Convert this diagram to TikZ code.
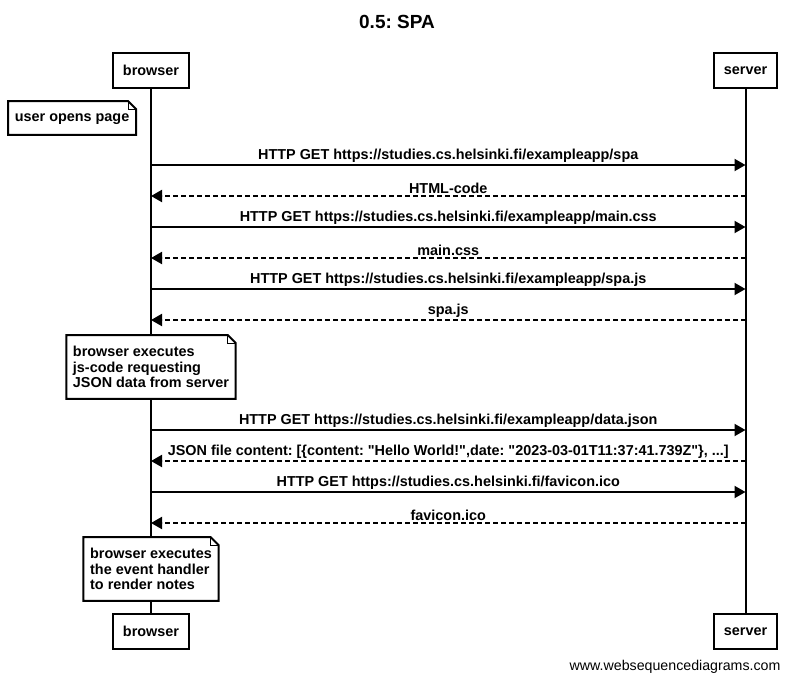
\documentclass[tikz,border=0pt]{standalone}
\usepackage{fontspec}
\setmainfont{Liberation Sans}
\usetikzlibrary{positioning,arrows.meta}
\frenchspacing

\tikzset{
  actor/.style={draw, line width=2pt, fill=white, inner xsep=10pt, minimum height=35pt,
    font=\bfseries\fontsize{14.4}{16}\selectfont},
  life/.style={line width=2pt},
  req/.style={line width=2pt, -{Triangle[length=11pt,width=12pt]}},
  resp/.style={req, dash pattern=on 5pt off 3pt},
  lbl/.style={above=0pt, inner sep=1.5pt, font=\bfseries\fontsize{14.4}{16}\selectfont},
  note/.style={fill=white, align=left, inner xsep=6.5pt, inner ysep=11pt,
    font=\bfseries\fontsize{14.4}{15.5}\selectfont},
  notefold/.style={line width=2pt, line join=miter}
}

% folded-corner outline around a note node
\newcommand{\foldnote}[1]{%
  \draw[notefold] (#1.north west) -- ([xshift=-8pt]#1.north east)
    -- ([yshift=-8pt]#1.north east) -- (#1.south east) -- (#1.south west) -- cycle;
  \draw[line width=1pt] ([xshift=-8pt]#1.north east) |- ([yshift=-8pt]#1.north east);
}

\begin{document}
\begin{tikzpicture}[x=1pt, y=-1pt]
\useasboundingbox (0,0) rectangle (793,683);

\node[font=\bfseries\fontsize{19}{22}\selectfont] (title) at (397,22) {0.5: SPA};

% participants
\node[actor] (bt) at (151,70.5) {browser};
\node[actor] (st) at (745.5,70.5) {server};
\node[actor] (bb) at (151,631.5) {browser};
\node[actor] (sb) at (745.5,631.5) {server};
\draw[life] (bt) -- (bb);
\draw[life] (st) -- (sb);

% message rows
\foreach \i/\y in {1/165,2/196,3/227,4/258,5/289,6/320,7/430,8/461,9/492,10/523}{
  \coordinate (b\i) at (151,\y);
  \coordinate (s\i) at (745.5,\y);
}

\node[note, anchor=north east, text height=10.5pt, text depth=3pt, inner ysep=10pt] (n1) at (136,101) {user opens page};
\foldnote{n1}

\draw[req] (b1) -- node[lbl] {HTTP GET https://studies.cs.helsinki.fi/exampleapp/spa} (s1);
\draw[resp] (s2) -- node[lbl] {HTML-code} (b2);
\draw[req] (b3) -- node[lbl] {HTTP GET https://studies.cs.helsinki.fi/exampleapp/main.css} (s3);
\draw[resp] (s4) -- node[lbl] {main.css} (b4);
\draw[req] (b5) -- node[lbl] {HTTP GET https://studies.cs.helsinki.fi/exampleapp/spa.js} (s5);
\draw[resp] (s6) -- node[lbl] {spa.js} (b6);

\node[note, anchor=north] (n2) at (151,335) {browser executes\\js-code requesting\\JSON data from server};
\foldnote{n2}

\draw[req] (b7) -- node[lbl] {HTTP GET https://studies.cs.helsinki.fi/exampleapp/data.json} (s7);
\draw[resp] (s8) -- node[lbl] {JSON file content: [\{content: \textquotedbl Hello World!\textquotedbl,date: \textquotedbl 2023-03-01T11:37:41.739Z\textquotedbl\}, ...]} (b8);
\draw[req] (b9) -- node[lbl] {HTTP GET https://studies.cs.helsinki.fi/favicon.ico} (s9);
\draw[resp] (s10) -- node[lbl] {favicon.ico} (b10);

\node[note, anchor=north] (n3) at (151,537) {browser executes\\the event handler\\to render notes};
\foldnote{n3}

\node[anchor=east, font=\fontsize{14.2}{16}\selectfont] (credit) at (784,667) {www.websequencediagrams.com};
\end{tikzpicture}
\end{document}
